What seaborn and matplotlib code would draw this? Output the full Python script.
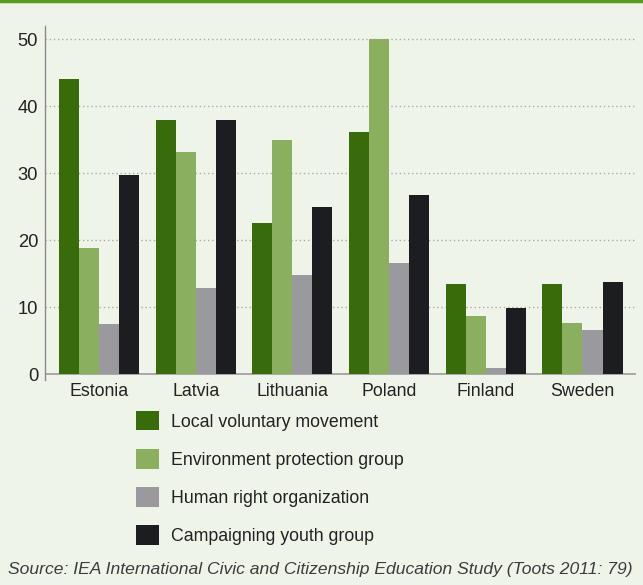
import seaborn as sns
import pandas as pd
import matplotlib.pyplot as plt
from matplotlib.patches import Patch
from matplotlib.lines import Line2D

countries = ["Estonia", "Latvia", "Lithuania", "Poland", "Finland", "Sweden"]
groups = ["Local voluntary movement", "Environment protection group",
          "Human right organization", "Campaigning youth group"]
local_voluntary = [44.1, 38.0, 22.6, 36.1, 13.5, 13.5]
environment = [18.9, 33.1, 34.9, 50.0, 8.7, 7.7]
human_right = [7.5, 12.9, 14.8, 16.6, 1.0, 6.6]
campaigning = [29.8, 37.9, 24.9, 26.8, 9.9, 13.8]
colors = ["#386c0b", "#8aaf5e", "#9a999e", "#1c1d21"]

rows = []
for g, vals in zip(groups, [local_voluntary, environment, human_right, campaigning]):
    for c, v in zip(countries, vals):
        rows.append({"Country": c, "Group": g, "Value": v})
df = pd.DataFrame(rows)

bg = "#eff4e9"
sns.set_style("white")
plt.rcParams['font.family'] = ['Liberation Sans', 'DejaVu Sans']

fig = plt.figure(figsize=(6.43, 5.85), dpi=100, facecolor=bg)
ax = fig.add_axes([0.07, 0.35, 0.919, 0.606])
ax.set_facecolor(bg)

sns.barplot(data=df, x="Country", y="Value", hue="Group", palette=colors,
            width=0.83, saturation=1, gap=0, linewidth=0, edgecolor="none",
            ax=ax, zorder=3)
ax.get_legend().remove()

ax.set_xlim(-0.558, 5.553)
ax.set_ylim(-0.9, 52)
ax.set_yticks([0, 10, 20, 30, 40, 50])
ax.set_xlabel("")
ax.set_ylabel("")
ax.tick_params(axis="both", length=0, labelsize=12.8, colors="#222222")
ax.tick_params(axis="x", pad=2)
ax.tick_params(axis="y", pad=5, labelsize=13.2)

for gy in [10, 20, 30, 40, 50]:
    ax.axhline(gy, color="#aaaaaa", lw=1, linestyle=(0, (1, 2)), zorder=1)
ax.axhline(0, color="#a0a0a0", lw=1.3, zorder=2)

for s in ["top", "right", "bottom"]:
    ax.spines[s].set_visible(False)
ax.spines["left"].set_color("#8a8a8a")
ax.spines["left"].set_linewidth(1)

handles = [Patch(facecolor=c, edgecolor="none") for c in colors]
fig.legend(handles, groups, loc="upper left", bbox_to_anchor=(0.2115, 0.2974),
           frameon=False, fontsize=12.8, handlelength=1.3, handleheight=1.3,
           handletextpad=0.67, labelspacing=1.04, borderpad=0, borderaxespad=0,
           labelcolor="#222222")

fig.text(0.0125, 0.026,
         "Source: IEA International Civic and Citizenship Education Study (Toots 2011: 79)",
         fontsize=12.6, style="italic", color="#3c3c3c", ha="left", va="center")

fig.add_artist(Line2D([0, 1], [0.998, 0.998], color="#5c9a1f", lw=2.5,
                      transform=fig.transFigure))

fig.savefig("out.png", dpi=100, facecolor=bg)
